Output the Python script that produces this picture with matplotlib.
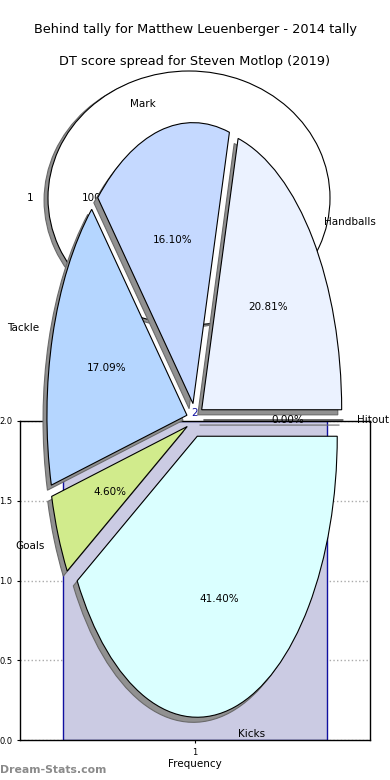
import matplotlib
matplotlib.use('Agg')
import matplotlib.pyplot as plt

# main pie (DT score spread)
labels = ['Handballs', 'Mark', 'Tackle', 'Goals', 'Kicks', 'Hitout']
shares = [20.81, 16.10, 17.09, 4.60, 41.40, 0.0]
colors = ['#ebf2ff', '#c5d9ff', '#b5d6ff', '#d1eb8c', '#daffff', '#f0f0f0']

# background pie (behind tally)
back_labels = ['1']
back_values = [1]

# bar chart underneath
bar_x = [1]
bar_heights = [2]

W, H = 390, 780
fig = plt.figure(figsize=(3.9, 7.8), dpi=100)

shadow = {'ox': -0.02, 'oy': -0.013, 'facecolor': '#919191', 'edgecolor': '#6a6a6a',
          'alpha': 1, 'linewidth': 0.8}

# --- bar axes (bottom layer)
axb = fig.add_axes([20 / W, 40 / H, 350 / W, 319 / H])
bars = axb.bar(bar_x, bar_heights, width=0.8, color='#cbcbe3', edgecolor='#1010a0', linewidth=1)
axb.bar_label(bars, labels=[str(h) for h in bar_heights], color='#1010a0', fontsize=7.5, padding=2)
axb.set_xlim(0.47, 1.53)
axb.set_ylim(0, 2)
axb.set_xticks(bar_x)
axb.set_yticks([0, 0.5, 1.0, 1.5, 2.0])
axb.set_yticklabels(['0.0', '0.5', '1.0', '1.5', '2.0'])
axb.tick_params(labelsize=6, length=2)
axb.grid(True, linestyle=':', color='#aaaaaa', linewidth=1)
axb.set_axisbelow(True)
axb.set_xlabel('Frequency', fontsize=7.5, labelpad=2)
for s in axb.spines.values():
    s.set_linewidth(1)

# --- background white pie
axw = fig.add_axes([0, 0, 1, 1])
axw.pie(back_values, labels=back_labels, colors=['white'], autopct='%.2f%%', shadow=shadow,
        wedgeprops={'edgecolor': 'black', 'linewidth': 0.8},
        textprops={'fontsize': 7.5})
axw.set_aspect('auto')
axw.set_xlim(-189 / 141, (W - 189) / 141)
axw.set_ylim(-(H - 198) / 127, 198 / 127)
axw.axis('off')
axw.patch.set_alpha(0)

# --- main pie
axp = fig.add_axes([0, 0, 1, 1])
axp.pie(shares, labels=labels, colors=colors, explode=[0.06] * len(shares), autopct='%.2f%%',
        shadow=shadow, startangle=0, wedgeprops={'edgecolor': 'black', 'linewidth': 0.8},
        textprops={'fontsize': 7.5})
axp.set_aspect('auto')
axp.set_xlim(-195 / 140, (W - 195) / 140)
axp.set_ylim(-(H - 420) / 281, 420 / 281)
axp.axis('off')
axp.patch.set_alpha(0)

fig.text(0.5, 1 - 30 / H, 'Behind tally for Matthew Leuenberger - 2014 tally', ha='center', va='center', fontsize=9.3)
fig.text(0.5, 1 - 61 / H, 'DT score spread for Steven Motlop (2019)', ha='center', va='center', fontsize=9.3)
fig.text(0.0, 1 - 770 / H, 'Dream-Stats.com', ha='left', va='center', fontsize=7.8,
         color='#8a8a8a', fontweight='bold')

fig.savefig('out.png', dpi=100)
